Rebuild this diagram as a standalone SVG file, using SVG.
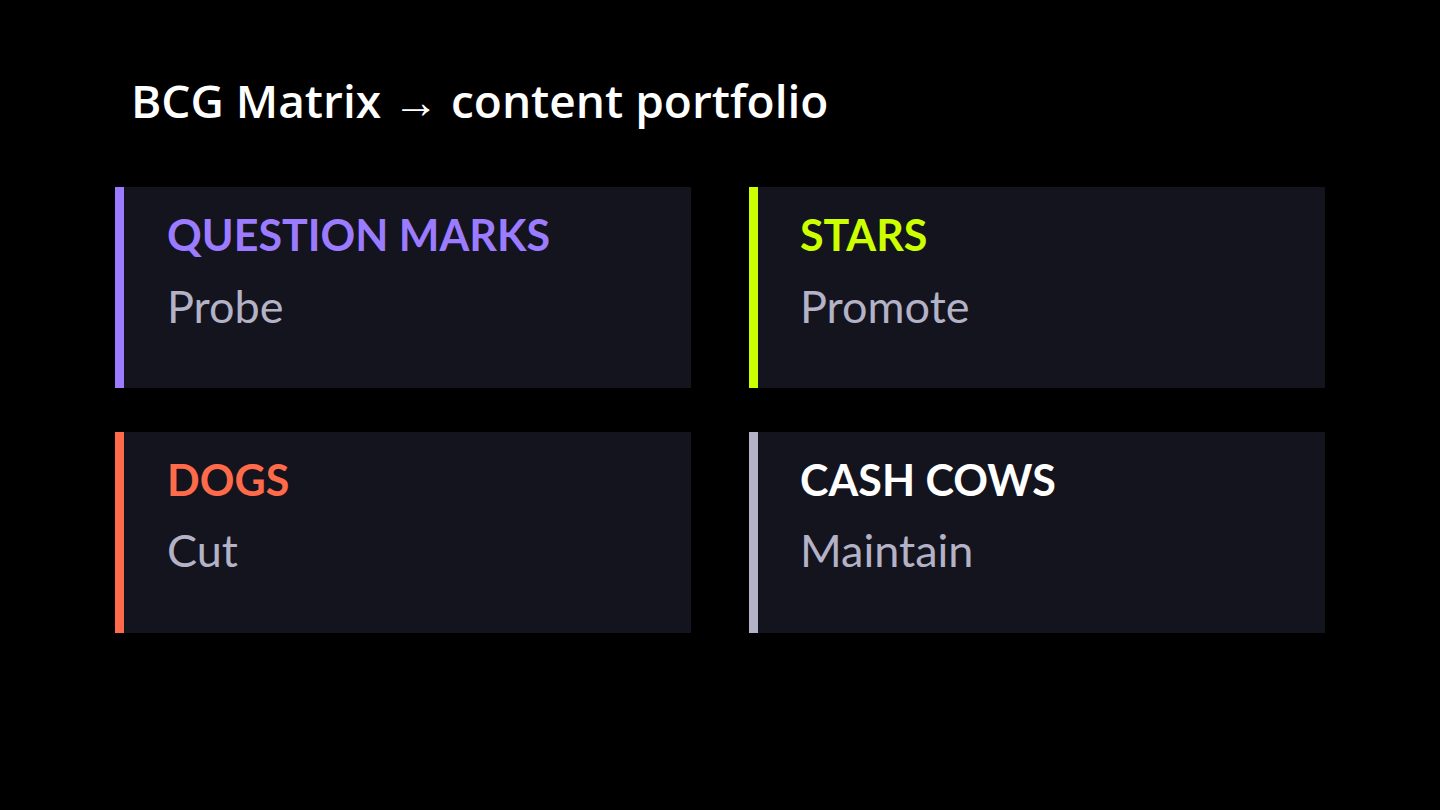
<svg xmlns="http://www.w3.org/2000/svg" width="1440" height="810" viewBox="0 0 1440 810">
<style>
.card{fill:#14141e}
.h{font-family:Lato,"Open Sans","Liberation Sans",sans-serif;font-weight:700;font-size:43px}
.b{font-family:Lato,"Open Sans","Liberation Sans",sans-serif;font-size:45px;fill:#b4b2c6}
.t{font-family:"Open Sans","Liberation Sans",sans-serif;font-weight:600;font-size:46px;fill:#ffffff}
</style>
<rect width="1440" height="810" fill="#000000"/>
<text class="t" x="131" y="118">BCG Matrix → content portfolio</text>
<g id="question-marks">
<rect class="card" x="115" y="187" width="576" height="201"/>
<rect x="115" y="187" width="9" height="201" fill="#9b7bff"/>
<text class="h" x="167" y="251" fill="#9b7bff">QUESTION MARKS</text>
<text class="b" x="167" y="323">Probe</text>
</g>
<g id="stars">
<rect class="card" x="749" y="187" width="576" height="201"/>
<rect x="749" y="187" width="9" height="201" fill="#ccff00"/>
<text class="h" x="800" y="251" fill="#ccff00">STARS</text>
<text class="b" x="800" y="323">Promote</text>
</g>
<g id="dogs">
<rect class="card" x="115" y="432" width="576" height="201"/>
<rect x="115" y="432" width="9" height="201" fill="#ff6b4a"/>
<text class="h" x="167" y="496" fill="#ff6b4a">DOGS</text>
<text class="b" x="167" y="567">Cut</text>
</g>
<g id="cash-cows">
<rect class="card" x="749" y="432" width="576" height="201"/>
<rect x="749" y="432" width="9" height="201" fill="#b4b2c6"/>
<text class="h" x="800" y="496" fill="#ffffff">CASH COWS</text>
<text class="b" x="800" y="567">Maintain</text>
</g>
<g id="connectors"></g>
</svg>
